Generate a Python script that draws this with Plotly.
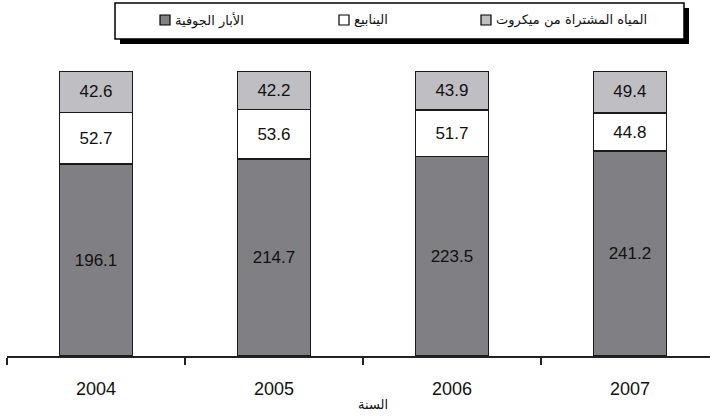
import plotly.graph_objects as go

# Data: water sources by year (values shown inside each segment)
years = ["2004", "2005", "2006", "2007"]
groundwater = [196.1, 214.7, 223.5, 241.2]   # الأبار الجوفية
springs = [52.7, 53.6, 51.7, 44.8]           # الينابيع
purchased = [42.6, 42.2, 43.9, 49.4]         # المياه المشتراة من ميكروت

series_names = ["الأبار الجوفية", "الينابيع", "المياه المشتراة من ميكروت"]
series_colors = ["#7f7f84", "#ffffff", "#bfbfc3"]
series_values = [groundwater, springs, purchased]

W, H = 710, 418
M_L, M_R, M_T, M_B = 7, 0, 71, 62
PW, PH = W - M_L - M_R, H - M_T - M_B


def px_x(x):
    return (x - M_L) / PW


def px_y(y):
    return (H - M_B - y) / PH


fig = go.Figure()
for name, color, vals in zip(series_names, series_colors, series_values):
    fig.add_trace(go.Bar(
        x=years, y=vals, name=name,
        marker=dict(color=color, line=dict(color="#1a1a1a", width=1.5)),
        text=[f"{v:.1f}" for v in vals],
        texttemplate="%{text}",
        textposition="inside", insidetextanchor="middle", textangle=0,
        constraintext="none",
        textfont=dict(family="Liberation Sans, Arial, sans-serif", size=17, color="#111111"),
        showlegend=False, hoverinfo="skip",
    ))

shapes = []
annotations = []

# Legend frame with drop shadow
bx0, by0, bx1, by1 = 115, 3, 684, 39
shapes.append(dict(type="rect", xref="paper", yref="paper",
                   x0=px_x(bx0 + 5), x1=px_x(bx1 + 5), y0=px_y(by0 + 5), y1=px_y(by1 + 5),
                   fillcolor="#000000", line=dict(width=0), layer="above"))
shapes.append(dict(type="rect", xref="paper", yref="paper",
                   x0=px_x(bx0), x1=px_x(bx1), y0=px_y(by0), y1=px_y(by1),
                   fillcolor="#ffffff", line=dict(color="#000000", width=1.5), layer="above"))

# Legend entries: swatch on the left of each label
legend_x = [160, 339, 481]
for name, color, sx in zip(series_names, series_colors, legend_x):
    shapes.append(dict(type="rect", xref="paper", yref="paper",
                       x0=px_x(sx), x1=px_x(sx + 10), y0=px_y(15), y1=px_y(25),
                       fillcolor=color, line=dict(color="#000000", width=1.2), layer="above"))
    annotations.append(dict(xref="paper", yref="paper", x=px_x(sx + 13), y=px_y(20),
                            text=name, showarrow=False, xanchor="left", yanchor="middle",
                            font=dict(family="DejaVu Sans, sans-serif", size=13, color="#111111")))

# Axis title
annotations.append(dict(xref="paper", yref="paper", x=px_x(373), y=px_y(404),
                        text="السنة", showarrow=False, xanchor="center", yanchor="middle",
                        font=dict(family="DejaVu Sans, sans-serif", size=13, color="#111111")))

fig.update_layout(
    width=W, height=H,
    margin=dict(l=M_L, r=M_R, t=M_T, b=M_B),
    paper_bgcolor="#ffffff", plot_bgcolor="#ffffff",
    barmode="stack", barnorm="percent", bargap=0.59,
    shapes=shapes, annotations=annotations,
    xaxis=dict(
        type="category", range=[-0.5, 3.45],
        showline=True, linecolor="#222222", linewidth=1.5,
        ticks="outside", tickson="boundaries", ticklen=7, tickwidth=1.5, tickcolor="#222222",
        ticklabelstandoff=16,
        tickfont=dict(family="Liberation Sans, Arial, sans-serif", size=18, color="#111111"),
        showgrid=False, zeroline=False,
    ),
    yaxis=dict(range=[0, 100], visible=False, showgrid=False, zeroline=False),
)

fig.write_html("out.html")
